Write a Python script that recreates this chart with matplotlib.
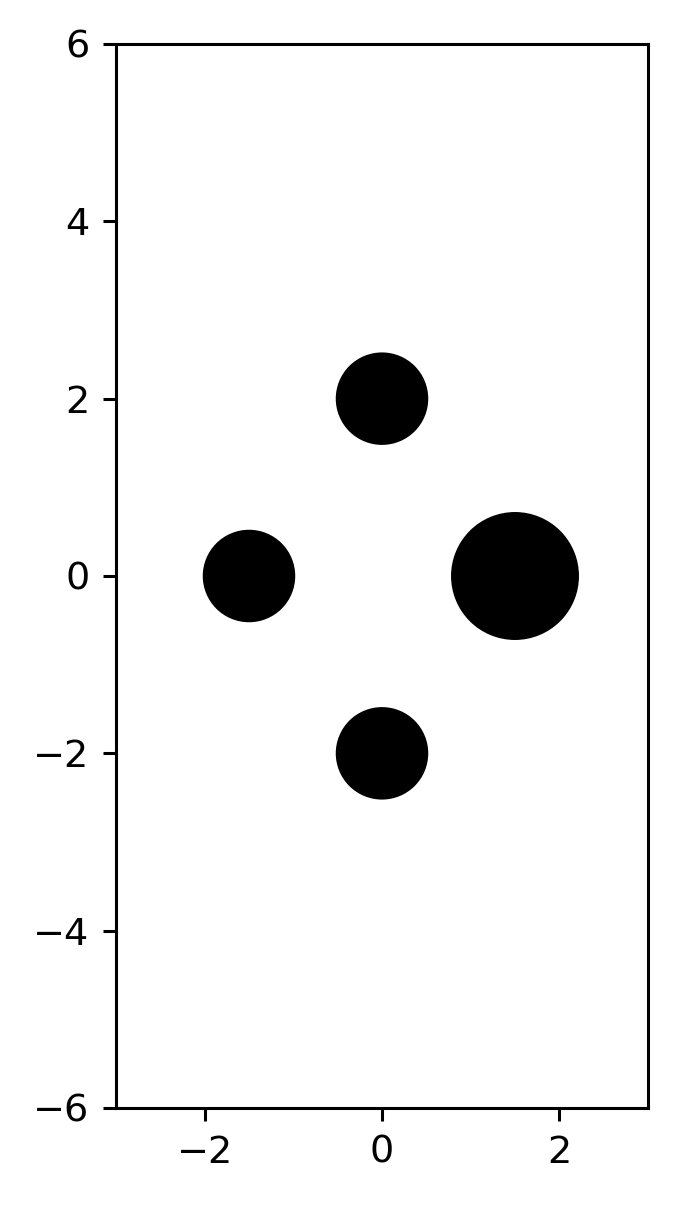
import matplotlib
matplotlib.use("Agg")
import matplotlib.pyplot as plt
from matplotlib.patches import Circle

x_centers = [0.0, -1.5, 1.5, 0.0]
y_centers = [2.0, 0.0, 0.0, -2.0]
radii = [0.5, 0.5, 0.7, 0.5]

s = 2.75  # scale relative to default point sizes
fig = plt.figure(figsize=(6.76, 12.05), dpi=100)
ax = fig.add_axes([116/676, 1 - 1108/1205, (648-116)/676, (1108-44)/1205])
for x, y, r in zip(x_centers, y_centers, radii):
    ax.add_patch(Circle((x, y), r, facecolor="black", edgecolor="black", linewidth=1.0 * s))
ax.set_xlim(-3, 3)
ax.set_ylim(-6, 6)
ax.set_xticks([-2, 0, 2])
ax.set_yticks([-6, -4, -2, 0, 2, 4, 6])
ax.tick_params(labelsize=10 * s, length=3.5 * s, width=0.8 * s, pad=3.5 * s)
for sp in ax.spines.values():
    sp.set_linewidth(0.8 * s)
fig.savefig("out.png", dpi=100)
